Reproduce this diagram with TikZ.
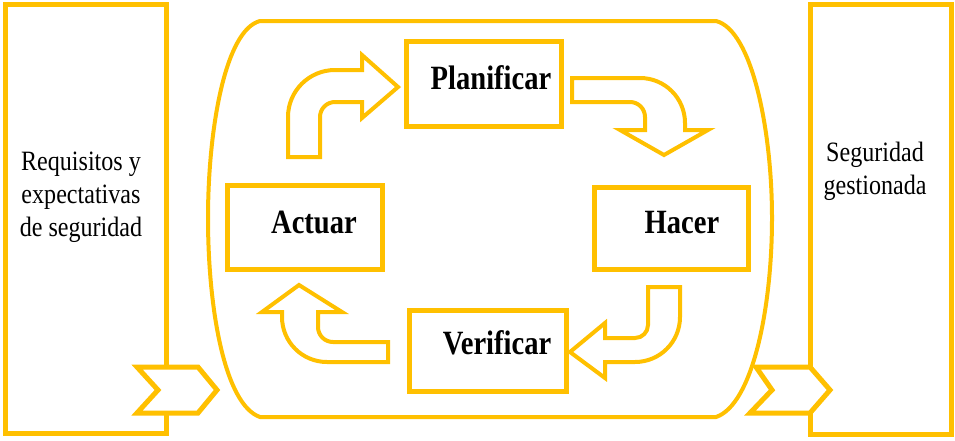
\documentclass[tikz,border=0pt]{standalone}
\usepackage{fontspec}
\setmainfont{Liberation Serif}
\newfontfamily\boxfont[FakeStretch=0.84]{Liberation Serif}
\newfontfamily\sidefont[FakeStretch=0.86]{Liberation Serif}
\definecolor{gold}{HTML}{FFC000}
\begin{document}
\begin{tikzpicture}[x=1pt,y=-1pt,
  frame/.style={draw=gold,line width=5pt,fill=white,inner sep=0pt},
  outline/.style={draw=gold,line width=4pt,fill=white},
  chev/.style={draw=gold,line width=5pt,fill=white},
  boxtext/.style={font=\boxfont\bfseries\fontsize{34}{38}\selectfont,inner sep=0pt},
  sidetext/.style={font=\sidefont\fontsize{28}{33}\selectfont,align=center,inner sep=0pt}]
\useasboundingbox (0,0) rectangle (955,440);
% big rounded container
\draw[draw=gold,line width=4pt] (260,21) -- (716,21)
  .. controls (752,30) and (772,130) .. (772,218)
  .. controls (772,310) and (752,405) .. (716,417) -- (260,417)
  .. controls (225,405) and (208,310) .. (208,218)
  .. controls (208,130) and (225,30) .. (260,21) -- cycle;
% side boxes
\node[frame,minimum width=161pt,minimum height=429pt] (inbox) at (85.5,218.5) {};
\node[frame,minimum width=141pt,minimum height=430pt] (outbox) at (880.5,219) {};
\node[sidetext] (intext) at (81,197) {Requisitos y\\expectativas\\de seguridad};
\node[sidetext] (outtext) at (875,171) {Seguridad\\gestionada};
% chevrons
\draw[chev] (137,367) -- (198,367) -- (217,390) -- (198,413) -- (137,413) -- (158,390) -- cycle;
\draw[chev] (756,367) -- (810,367) -- (830,390) -- (810,413) -- (750,413) -- (772,390) -- cycle;
% PDCA boxes
\node[frame,minimum width=155pt,minimum height=85pt] (plan) at (483.5,83.5) {};
\node[frame,minimum width=155pt,minimum height=84pt] (act) at (304.5,227) {};
\node[frame,minimum width=154pt,minimum height=82pt] (do) at (671,228) {};
\node[frame,minimum width=157pt,minimum height=81pt] (check) at (487.5,350.5) {};
\node[boxtext] (planT) at (491,78) {Planificar};
\node[boxtext] (actT) at (314,222) {Actuar};
\node[boxtext] (doT) at (682,223) {Hacer};
\node[boxtext] (checkT) at (497,343) {Verificar};
% curved block arrows
\draw[outline] (288,157) -- (288,117) arc[start angle=180,end angle=270,radius=47]
  -- (362,70) -- (362,55) -- (398,87) -- (362,118) -- (362,102) -- (335,102)
  arc[start angle=270,end angle=180,radius=15] -- (320,157) -- cycle;
\draw[outline] (572,78) -- (640,78) arc[start angle=270,end angle=360,radius=45]
  -- (685,130) -- (708,130) -- (664,155) -- (620,130) -- (645,130) -- (645,117)
  arc[start angle=0,end angle=-90,radius=15] -- (572,102) -- cycle;
\draw[outline] (648,287) -- (680,287) -- (680,317) arc[start angle=0,end angle=90,radius=45]
  -- (605,362) -- (605,378) -- (570,352) -- (605,323) -- (605,338) -- (635,338)
  arc[start angle=90,end angle=0,radius=13] -- cycle;
\draw[outline] (388,362) -- (327,362) arc[start angle=90,end angle=180,radius=45]
  -- (282,312) -- (262,312) -- (299,285) -- (342,312) -- (318,312) -- (318,327)
  arc[start angle=180,end angle=90,radius=15] -- (388,342) -- cycle;
\end{tikzpicture}
\end{document}
